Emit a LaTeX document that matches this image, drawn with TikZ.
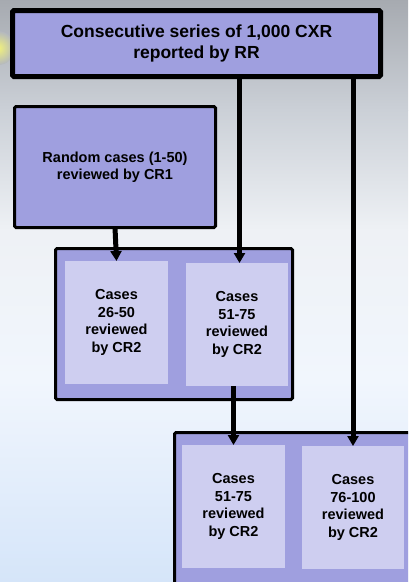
\documentclass[tikz,border=0pt]{standalone}
\usepackage{fontspec}
\setmainfont{Liberation Sans}
\usetikzlibrary{arrows.meta}
\definecolor{boxfill}{HTML}{9F9FDF}
\definecolor{innerfill}{HTML}{CECEF0}
\definecolor{bgA}{HTML}{A6AAB0}
\definecolor{bgB}{HTML}{CBD0D7}
\definecolor{bgC}{HTML}{EEF1F5}
\definecolor{bgD}{HTML}{F1F6FD}
\definecolor{bgE}{HTML}{D5E5F9}
\definecolor{sunY}{HTML}{F2F27A}
\definecolor{sunOut}{HTML}{B4B8BF}
\tikzset{
  outerbox/.style={draw=black, fill=boxfill, line width=3pt, rounded corners=1.5pt, inner sep=0pt, outer sep=0pt, align=center, font=\bfseries\fontsize{14.5}{17.5}\selectfont},
  innerbox/.style={fill=innerfill, inner sep=0pt, outer sep=0pt, minimum width=102.5pt, minimum height=123pt, align=center, font=\bfseries\fontsize{14.5}{17.6}\selectfont},
  conn/.style={line width=5pt, draw=black},
  arr/.style={conn, -{Triangle[width=11pt,length=10pt]}}
}
\begin{document}
\begin{tikzpicture}[x=1pt,y=-1pt]
\useasboundingbox (0,0) rectangle (408,582);
\clip (0,0) rectangle (408,582);
% background
\shade[top color=bgA, bottom color=bgB] (0,-1) rectangle (408,110);
\shade[top color=bgB, bottom color=bgC] (0,110) rectangle (408,230);
\shade[top color=bgC, bottom color=bgD] (0,230) rectangle (408,380);
\shade[top color=bgD, bottom color=bgE] (0,380) rectangle (408,583);
\shade[inner color=sunY, outer color=sunOut] (-2,48) circle (17);
% boxes
\node[outerbox, line width=5pt, minimum width=368pt, minimum height=66pt, font=\bfseries\fontsize{17.5}{21}\selectfont] (top) at (196.5,43.5) {Consecutive series of 1,000 CXR\\reported by RR};
\node[outerbox, minimum width=201pt, minimum height=121pt] (rand) at (115,167) {Random cases (1-50)\\reviewed by CR1};
\node[outerbox, minimum width=237pt, minimum height=151pt] (mid) at (174,324) {};
\node[outerbox, minimum width=256pt, minimum height=168pt] (bot) at (302.5,516.5) {};
\node[innerbox] (ml) at (116.5,322.5) {Cases\\26-50\\reviewed\\by CR2};
\node[innerbox] (mr) at (237,324.5) {Cases\\51-75\\reviewed\\by CR2};
\node[innerbox] (bl) at (233.5,506.5) {Cases\\51-75\\reviewed\\by CR2};
\node[innerbox] (br) at (353,507.5) {Cases\\76-100\\reviewed\\by CR2};
% connectors
\coordinate (c1) at (239.5,263);
\draw[arr] (rand.south) -- (ml.north);
\draw[arr] (top.south -| c1) -- (c1);
\draw[arr] (mr.south -| bl.north) -- (bl.north);
\draw[arr] (top.south -| br.north) -- (br.north);
\end{tikzpicture}
\end{document}
